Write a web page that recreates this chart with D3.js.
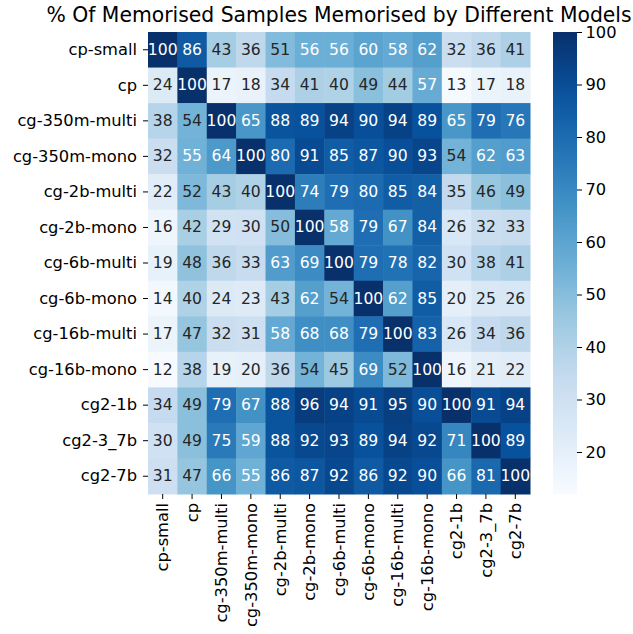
<!DOCTYPE html>
<html>
<head>
<meta charset="utf-8">
<script src="https://cdn.jsdelivr.net/npm/d3@7"></script>
<style>
  html, body { margin: 0; padding: 0; background: #fff; }
  svg { display: block; font-family: "DejaVu Sans", sans-serif; }
</style>
</head>
<body>
<svg id="chart" width="633" height="634"></svg>
<script>
const models = ["cp-small", "cp", "cg-350m-multi", "cg-350m-mono", "cg-2b-multi", "cg-2b-mono",
  "cg-6b-multi", "cg-6b-mono", "cg-16b-multi", "cg-16b-mono", "cg2-1b", "cg2-3_7b", "cg2-7b"];

const values = [
  [100, 86, 43, 36, 51, 56, 56, 60, 58, 62, 32, 36, 41],
  [24, 100, 17, 18, 34, 41, 40, 49, 44, 57, 13, 17, 18],
  [38, 54, 100, 65, 88, 89, 94, 90, 94, 89, 65, 79, 76],
  [32, 55, 64, 100, 80, 91, 85, 87, 90, 93, 54, 62, 63],
  [22, 52, 43, 40, 100, 74, 79, 80, 85, 84, 35, 46, 49],
  [16, 42, 29, 30, 50, 100, 58, 79, 67, 84, 26, 32, 33],
  [19, 48, 36, 33, 63, 69, 100, 79, 78, 82, 30, 38, 41],
  [14, 40, 24, 23, 43, 62, 54, 100, 62, 85, 20, 25, 26],
  [17, 47, 32, 31, 58, 68, 68, 79, 100, 83, 26, 34, 36],
  [12, 38, 19, 20, 36, 54, 45, 69, 52, 100, 16, 21, 22],
  [34, 49, 79, 67, 88, 96, 94, 91, 95, 90, 100, 91, 94],
  [30, 49, 75, 59, 88, 92, 93, 89, 94, 92, 71, 100, 89],
  [31, 47, 66, 55, 86, 87, 92, 86, 92, 90, 66, 81, 100]
];

const colorbarTicks = [20, 30, 40, 50, 60, 70, 80, 90, 100];
const chartTitle = "% Of Memorised Samples Memorised by Different Models";

const bluesStops = ["#f7fbff", "#deebf7", "#c6dbef", "#9ecae1", "#6baed6", "#4292c6", "#2171b5", "#08519c", "#08306b"];

const svg = d3.select("#chart");
const mLeft = 148, mRight = 530, mTop = 32, mBottom = 494;
const tickFont = "16.3px", annotFont = "15.6px", titleFont = "20.35px";
const allVals = values.flat();
const vmin = d3.min(allVals), vmax = d3.max(allVals);

const x = d3.scaleBand().domain(models).range([mLeft, mRight]).padding(0);
const y = d3.scaleBand().domain(models).range([mTop, mBottom]).padding(0);

const tScale = d3.scaleLinear().domain(d3.range(bluesStops.length).map(i => i / (bluesStops.length - 1)))
  .range(bluesStops).interpolate(d3.interpolateRgb).clamp(true);
const norm = d3.scaleLinear().domain([vmin, vmax]).range([0, 1]).clamp(true);
const color = v => tScale(norm(v));

function luminance(c) {
  const rgb = d3.rgb(c);
  const f = u => { u /= 255; return u <= 0.03928 ? u / 12.92 : Math.pow((u + 0.055) / 1.055, 2.4); };
  return 0.2126 * f(rgb.r) + 0.7152 * f(rgb.g) + 0.0722 * f(rgb.b);
}

const cells = [];
values.forEach((row, i) => row.forEach((v, j) => cells.push({ r: models[i], c: models[j], v })));

const g = svg.append("g");
g.selectAll("rect.cell").data(cells).join("rect")
  .attr("class", "cell")
  .attr("x", d => x(d.c)).attr("y", d => y(d.r))
  .attr("width", x.bandwidth() + 0.5).attr("height", y.bandwidth() + 0.5)
  .attr("fill", d => color(d.v));

g.selectAll("text.annot").data(cells).join("text")
  .attr("class", "annot")
  .attr("x", d => x(d.c) + x.bandwidth() / 2)
  .attr("y", d => y(d.r) + y.bandwidth() / 2)
  .attr("text-anchor", "middle").attr("dominant-baseline", "central")
  .attr("font-size", annotFont)
  .attr("fill", d => luminance(color(d.v)) > 0.408 ? "#262626" : "#ffffff")
  .text(d => d.v);

// Y axis
const yAxis = d3.axisLeft(y).tickSize(5).tickPadding(6);
const ya = svg.append("g").attr("transform", `translate(${mLeft},0)`).call(yAxis);
ya.select(".domain").remove();
ya.selectAll("text").attr("font-size", tickFont).attr("fill", "#000").attr("font-family", "DejaVu Sans");
ya.selectAll("line").attr("stroke", "#000").attr("stroke-width", 1);

// X axis
const xAxis = d3.axisBottom(x).tickSize(5).tickPadding(4);
const xa = svg.append("g").attr("transform", `translate(0,${mBottom})`).call(xAxis);
xa.select(".domain").remove();
xa.selectAll("line").attr("stroke", "#000").attr("stroke-width", 1);
xa.selectAll("text")
  .attr("font-size", tickFont).attr("fill", "#000").attr("font-family", "DejaVu Sans")
  .attr("transform", "rotate(-90)")
  .attr("text-anchor", "end")
  .attr("x", -9).attr("y", 0).attr("dy", "0.35em");

// Colorbar
const cbLeft = 553, cbRight = 577;
const cbScale = d3.scaleLinear().domain([vmin, vmax]).range([mBottom, mTop]);
const defs = svg.append("defs");
const grad = defs.append("linearGradient").attr("id", "cbgrad")
  .attr("x1", "0").attr("y1", "1").attr("x2", "0").attr("y2", "0");
d3.range(0, 1.0001, 0.05).forEach(t => {
  grad.append("stop").attr("offset", t).attr("stop-color", tScale(t));
});
svg.append("rect").attr("x", cbLeft).attr("y", mTop)
  .attr("width", cbRight - cbLeft).attr("height", mBottom - mTop)
  .attr("fill", "url(#cbgrad)");
const cbAxis = d3.axisRight(cbScale).tickValues(colorbarTicks).tickSize(5).tickPadding(3.5).tickFormat(d3.format("d"));
const ca = svg.append("g").attr("transform", `translate(${cbRight},0)`).call(cbAxis);
ca.select(".domain").remove();
ca.selectAll("text").attr("font-size", tickFont).attr("fill", "#000").attr("font-family", "DejaVu Sans");
ca.selectAll("line").attr("stroke", "#000");

// Title
svg.append("text").attr("x", (mLeft + mRight) / 2).attr("y", 21.5)
  .attr("text-anchor", "middle").attr("font-size", titleFont).attr("fill", "#000")
  .text(chartTitle);
</script>
</body>
</html>
